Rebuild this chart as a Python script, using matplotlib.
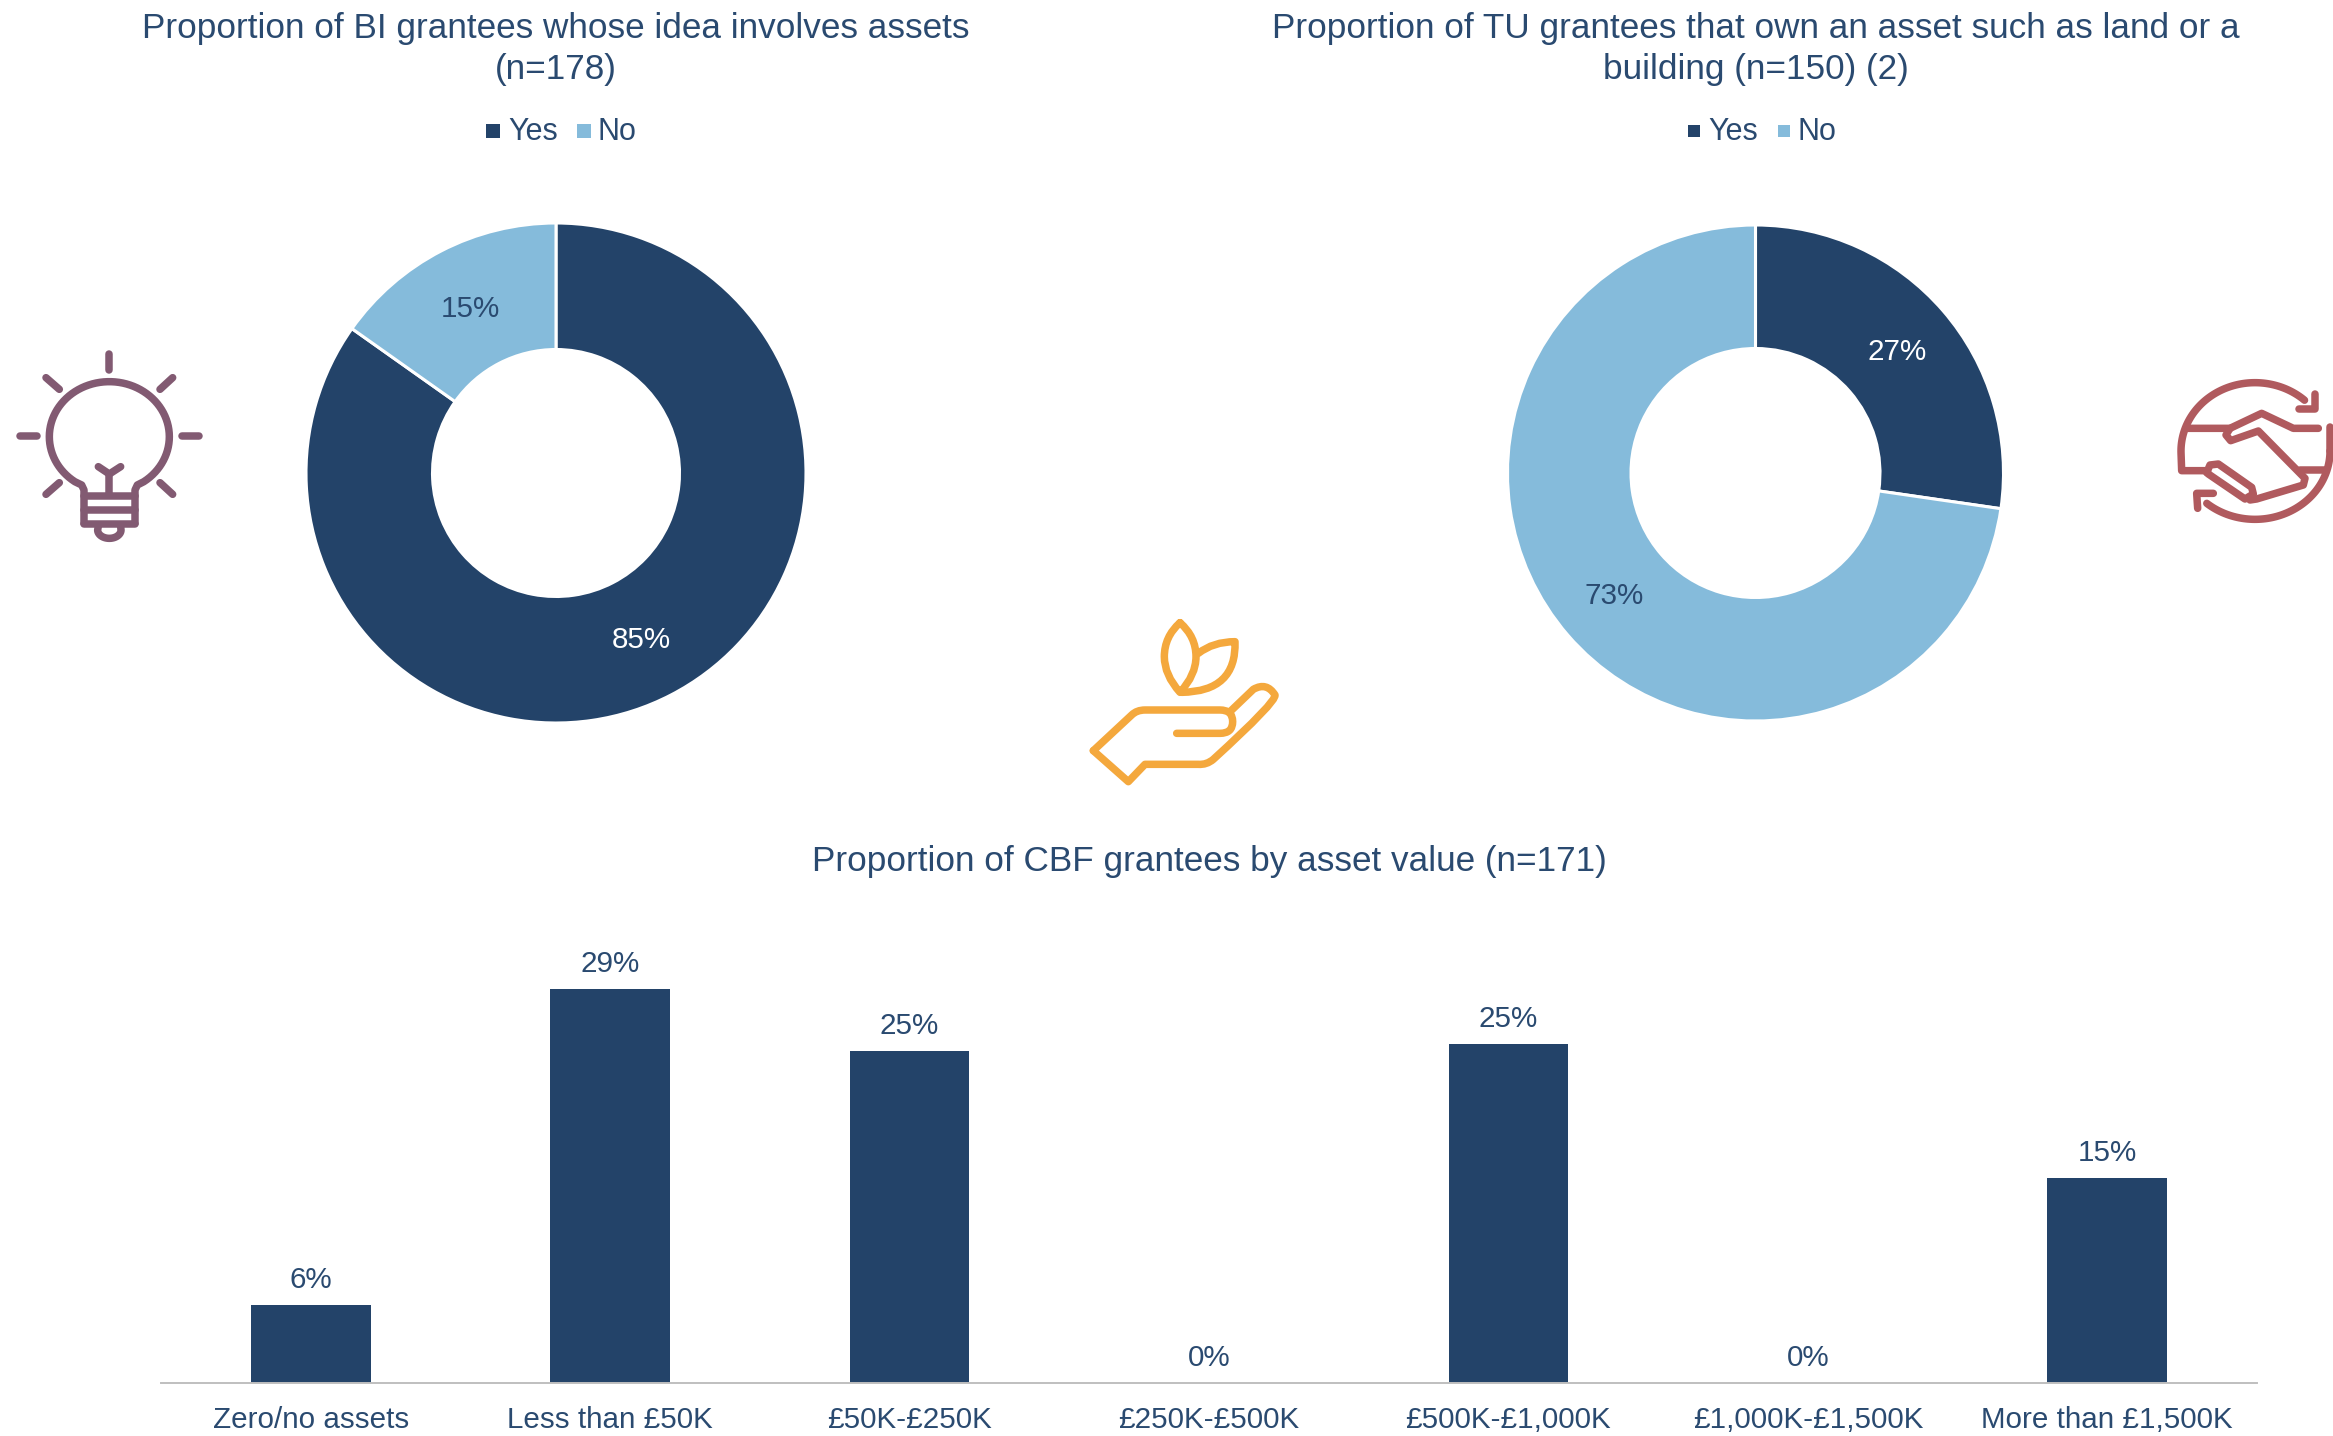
import numpy as np
import matplotlib
matplotlib.use("Agg")
import matplotlib.pyplot as plt
from matplotlib.path import Path
from matplotlib.patches import PathPatch, Rectangle

plt.rcParams['font.family'] = ['Liberation Sans', 'DejaVu Sans']

W, H = 2333, 1436
DARK = '#234369'
LIGHT = '#85BBDB'
TEXT = '#2A4A70'

legend_labels = ['Yes', 'No']
bi_values = [84.8, 15.2]
bi_labels = ['85%', '15%']
tu_values = [27.3, 72.7]
tu_labels = ['27%', '73%']
bi_title = 'Proportion of BI grantees whose idea involves assets\n(n=178)'
tu_title = 'Proportion of TU grantees that own an asset such as land or a\nbuilding (n=150) (2)'
cbf_title = 'Proportion of CBF grantees by asset value (n=171)'
cbf_categories = ['Zero/no assets', 'Less than £50K', '£50K-£250K', '£250K-£500K',
                  '£500K-£1,000K', '£1,000K-£1,500K', 'More than £1,500K']
cbf_values = [5.8, 29.2, 24.6, 0, 25.1, 0, 15.2]

TITLE_FS = 25.3
LABEL_FS = 21.3
LEGEND_FS = 22

fig = plt.figure(figsize=(W / 100, H / 100), dpi=100, facecolor='white')


def axes_px(x0, y0, x1, y1, **kw):
    return fig.add_axes([x0 / W, 1 - y1 / H, (x1 - x0) / W, (y1 - y0) / H], **kw)


def donut(cx, cy, R, r, values):
    ax = axes_px(cx - R, cy - R, cx + R, cy + R)
    ax.pie(values, colors=[DARK, LIGHT], startangle=90, counterclock=False, radius=1,
           wedgeprops=dict(width=1 - r / R, edgecolor='white', linewidth=2.2))
    ax.set_xlim(-1, 1)
    ax.set_ylim(-1, 1)
    ax.set_aspect('equal')
    return ax


donut(556, 473, 250, 123.5, bi_values)
donut(1755.5, 473, 248, 124.5, tu_values)

# bar chart
axb = axes_px(161, 900, 2257, 1383)
x = np.arange(len(cbf_categories))
bars = axb.bar(x, cbf_values, width=0.4, color=DARK)
axb.set_xlim(-0.5, 6.5)
axb.set_ylim(0, 483 / 13.5)
axb.set_xticks(x, cbf_categories, fontsize=LABEL_FS, color=TEXT)
axb.tick_params(axis='x', length=0, pad=16.5)
axb.set_yticks([])
for s in ['top', 'left', 'right']:
    axb.spines[s].set_visible(False)
axb.spines['bottom'].set_color('#BFBFBF')
axb.spines['bottom'].set_linewidth(1.4)
axb.patch.set_alpha(0)
for b, v in zip(bars, cbf_values):
    axb.annotate(f'{v:.0f}%', (b.get_x() + b.get_width() / 2, v), xytext=(0, 8),
                 textcoords='offset points', ha='center', va='bottom',
                 fontsize=LABEL_FS, color=TEXT)

# overlay in pixels for text, legends and icons
ov = axes_px(0, 0, W, H)
ov.set_xlim(0, W)
ov.set_ylim(H, 0)
ov.axis('off')
ov.patch.set_alpha(0)

ov.text(556, 49, bi_title, ha='center', va='center', fontsize=TITLE_FS, color=TEXT, linespacing=1.31)
ov.text(1756, 49, tu_title, ha='center', va='center', fontsize=TITLE_FS, color=TEXT, linespacing=1.31)
ov.text(1209, 861, cbf_title, ha='center', va='center', fontsize=TITLE_FS, color=TEXT)

for (mx, tx), lab, col in zip([(493, 508), (584, 597)], legend_labels, [DARK, LIGHT]):
    ov.add_patch(Rectangle((mx - 7, 124), 14, 14, color=col, lw=0))
    ov.text(tx, 132, lab, ha='left', va='center', fontsize=LEGEND_FS, color=TEXT)
for (mx, tx), lab, col in zip([(1694, 1708), (1784, 1797)], legend_labels, [DARK, LIGHT]):
    ov.add_patch(Rectangle((mx - 6, 125), 12, 12, color=col, lw=0))
    ov.text(tx, 132, lab, ha='left', va='center', fontsize=LEGEND_FS, color=TEXT)

for (px, py), lab, col in zip([(641.5, 640), (470, 309)], bi_labels, ['white', TEXT]):
    ov.text(px, py, lab, ha='center', va='center', fontsize=LABEL_FS, color=col)
for (px, py), lab, col in zip([(1897, 352), (1614, 596)], tu_labels, ['white', TEXT]):
    ov.text(px, py, lab, ha='center', va='center', fontsize=LABEL_FS, color=col)

ICON_LW = 5.4


def stroke(pts, off, col, lw=ICON_LW):
    p = np.array(pts, dtype=float) / 3 + np.array(off)
    ov.plot(p[:, 0], p[:, 1], color=col, lw=lw, solid_capstyle='round',
            solid_joinstyle='round', clip_on=True)


def arc(cx, cy, rx, ry, a0, a1, n=80):
    t = np.radians(np.linspace(a0, a1, n))
    return np.c_[cx + rx * np.cos(t), cy + ry * np.sin(t)]


def curve(verts, codes, off, col, lw=ICON_LW):
    v = np.array(verts, dtype=float) / 3 + np.array(off)
    ov.add_patch(PathPatch(Path(v, codes), fc='none', ec=col, lw=lw,
                           capstyle='round', joinstyle='round'))


# light bulb
B = '#825A72'
O = (0, 330)
for a, b in [((328, 72), (328, 120)), ((138, 143), (178, 178)), ((518, 143), (480, 178)),
             ((60, 318), (112, 318)), ((545, 318), (598, 318)),
             ((138, 493), (178, 458)), ((518, 493), (480, 458))]:
    stroke([a, b], O, B)
bulb = arc(328, 320, 180, 165, 125, 415)
stroke(np.vstack([[[252, 580], [252, 480], [245, 465]], bulb, [[412, 465], [405, 480], [405, 580]]]), O, B)
stroke([(252, 497), (405, 497)], O, B)
stroke([(252, 540), (405, 540)], O, B)
stroke([(252, 583), (405, 583)], O, B)
stroke(np.vstack([[[295, 588]], arc(328, 600, 35, 25, 180, 0), [[362, 588]]]), O, B)
stroke([(328, 490), (328, 432)], O, B)
stroke([(295, 410), (328, 432), (362, 410)], O, B)

# handshake
C = '#B05A5E'
O = (2150, 350)
stroke(np.vstack([[[165, 362], [95, 362]], arc(315, 303, 222, 205, 178, 312)]), O, C)
stroke([(495, 132), (495, 178), (447, 178)], O, C)
stroke(arc(315, 303, 225, 205, 0, 130), O, C)
stroke([(540, 303), (540, 232)], O, C)
stroke([(190, 430), (140, 430), (143, 475)], O, C)
stroke([(112, 235), (240, 235), (335, 190), (430, 235), (505, 235)], O, C)
stroke([(240, 235), (228, 255), (242, 272), (325, 243), (465, 385), (460, 405), (320, 447), (300, 450)], O, C)
stroke([(175, 372), (285, 447), (310, 432), (305, 412), (205, 342), (180, 345), (170, 368)], O, C)
stroke([(450, 360), (525, 360)], O, C)

# hand and leaves
A = '#F4A83D'
O = (1070, 600)
M, L, Q = Path.MOVETO, Path.LINETO, Path.CURVE3
curve([(330, 68), (283, 110), (283, 170), (283, 225), (330, 277),
       (378, 225), (378, 170), (378, 110), (330, 68)],
      [M, Q, Q, Q, Q, Q, Q, Q, Q], O, A)
curve([(385, 160), (430, 125), (495, 125), (500, 275), (335, 277)],
      [M, Q, Q, Q, Q], O, A)
curve([(70, 452), (185, 345), (200, 330), (225, 330), (450, 330), (488, 330), (488, 365),
       (488, 400), (450, 400), (320, 400)],
      [M, L, Q, Q, L, Q, Q, Q, Q, L], O, A)
curve([(480, 335), (550, 268), (590, 245), (615, 285), (620, 305), (430, 478), (410, 495), (385, 493),
       (225, 493), (175, 545), (70, 452)],
      [M, L, Q, Q, Q, L, Q, Q, L, L, L], O, A)

fig.savefig('out.png', dpi=100, facecolor='white')
